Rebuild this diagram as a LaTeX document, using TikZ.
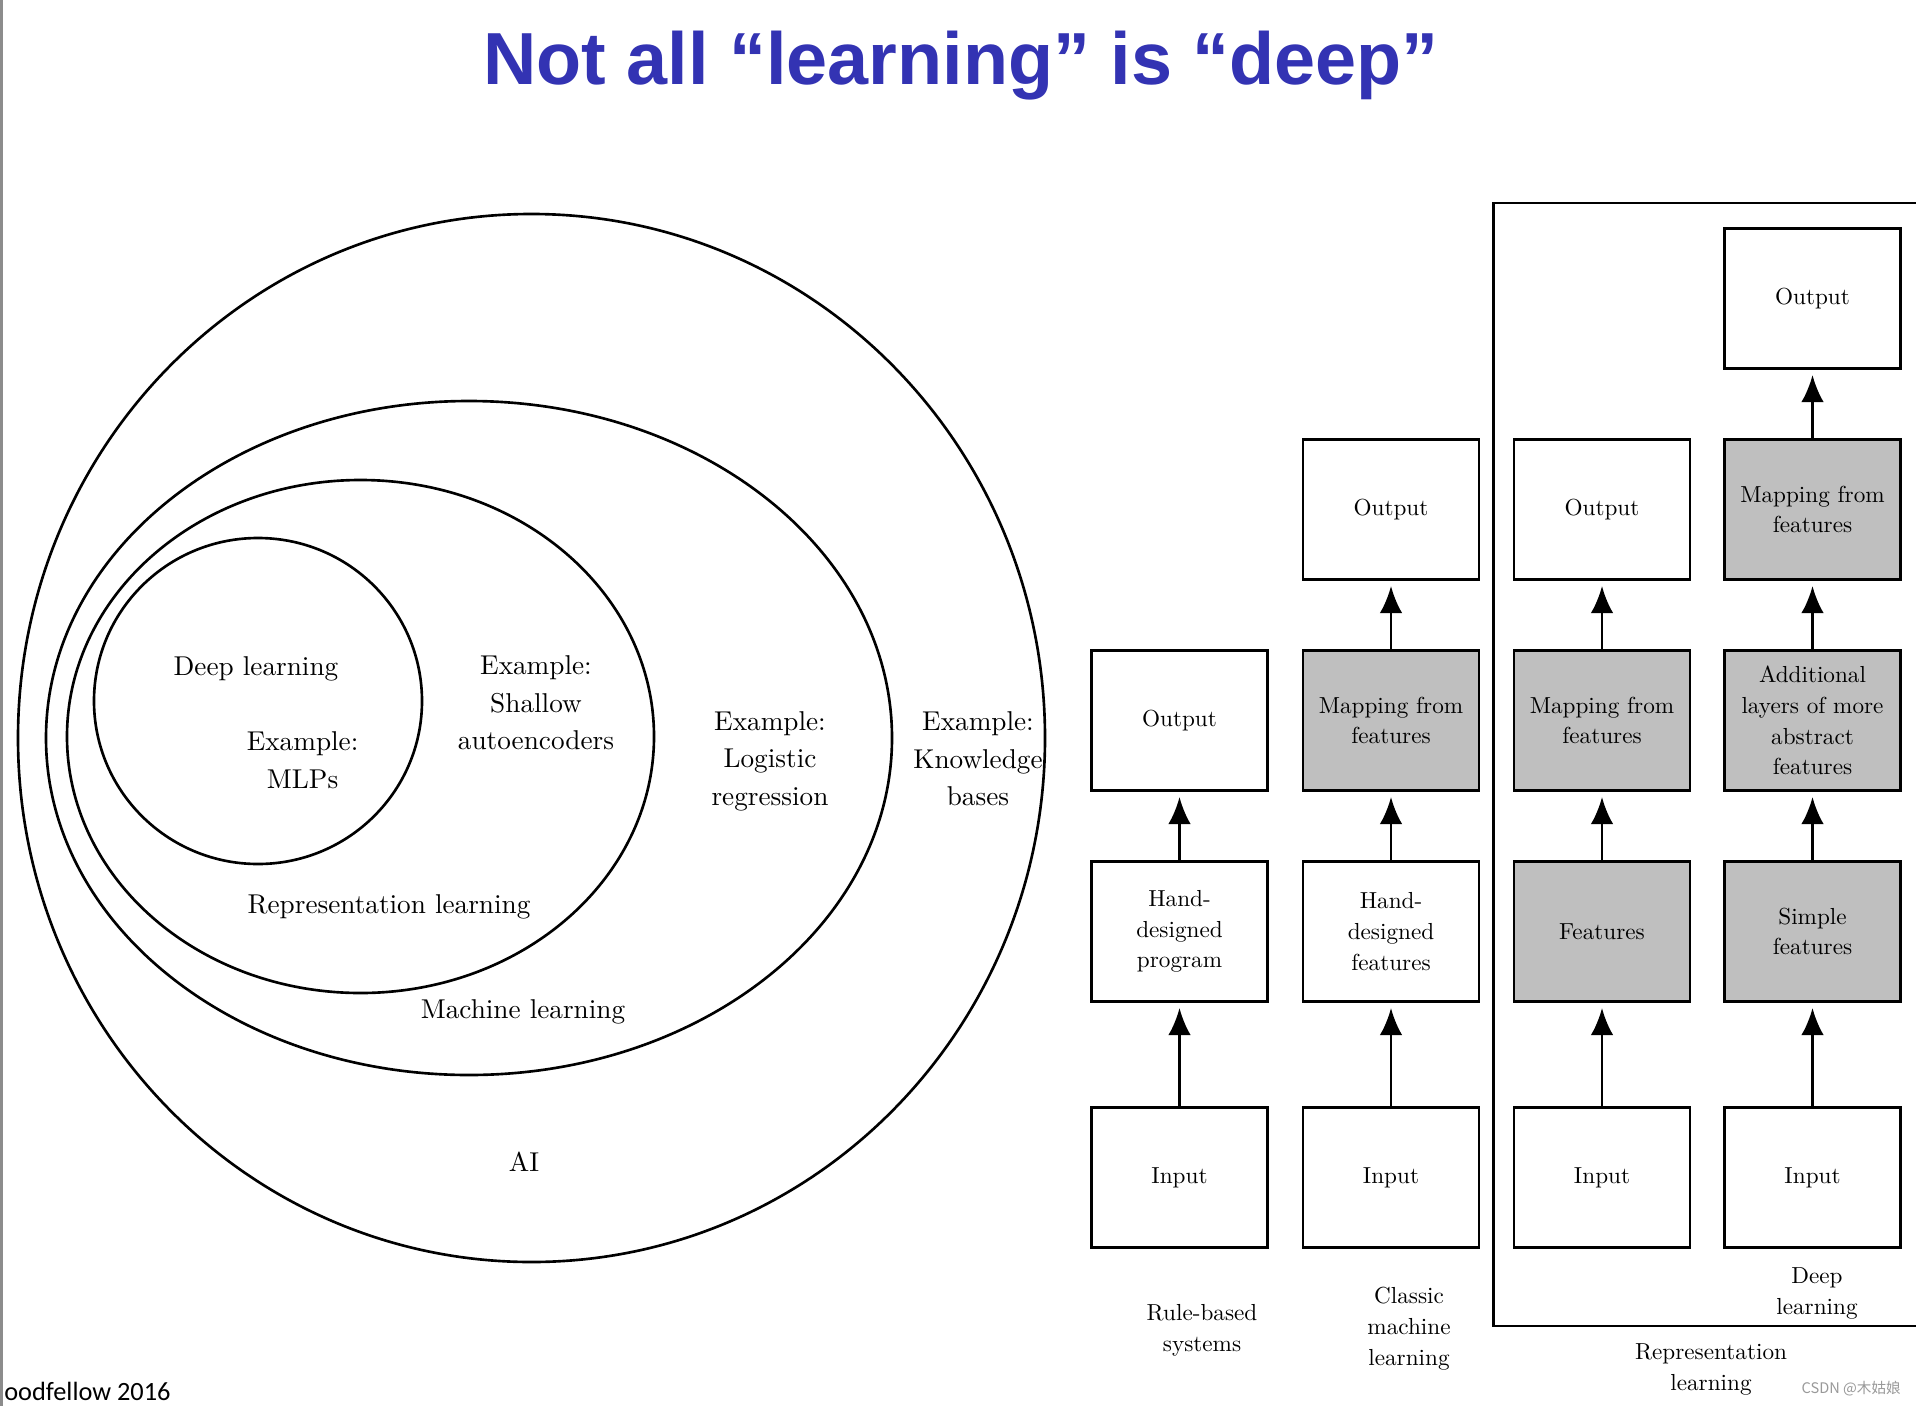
\documentclass[tikz,border=0pt]{standalone}
\usepackage{fontspec}
\setmainfont{lmroman10-regular.otf}
\newfontfamily\titlefont{Liberation Sans}
\newfontfamily\footfont{Carlito}
\newfontfamily\cjk{Noto Sans CJK SC}
\usetikzlibrary{arrows.meta}
\definecolor{titleblue}{RGB}{51,51,179}
\definecolor{layergray}{RGB}{191,191,191}

\begin{document}
\begin{tikzpicture}[x=0.02cm,y=-0.02cm,>={Latex[length=0.54cm,width=0.45cm]},
  venn/.style={line width=1.5pt},
  vtext/.style={align=center,font=\fontsize{15.5}{21.3}\selectfont},
  box/.style={draw,line width=1.5pt,minimum width=3.52cm,minimum height=2.81cm,
    align=center,inner sep=0pt,font=\fontsize{13.2}{17.5}\selectfont},
  learnt/.style={box,fill=layergray},
  flow/.style={->,line width=1.5pt,shorten >=0.1cm},
  caption/.style={align=center,font=\fontsize{13.2}{17.6}\selectfont}]
  \useasboundingbox (0,0) rectangle (1916,1406);
  \fill[white] (0,0) rectangle (1916,1406);
  \fill[black!45] (0,0) rectangle (3,1406);

  \node[text=titleblue,font=\titlefont\bfseries\fontsize{42}{50}\selectfont,anchor=base]
    (title) at (961,85) {Not all “learning” is “deep”};

  \begin{scope}
  \draw[venn] (531.5,738) ellipse [x radius=513.5,y radius=524];
  \draw[venn] (469,738) ellipse [x radius=423,y radius=337];
  \draw[venn] (360.5,736.5) ellipse [x radius=293.5,y radius=256.5];
  \draw[venn] (258,701) ellipse [x radius=164,y radius=163];
  \node[vtext] (dl) at (256,669) {Deep learning};
  \node[vtext] (mlp) at (302.6,760) {Example:\\MLPs};
  \node[vtext] (shallow) at (536,703) {Example:\\Shallow\\autoencoders};
  \node[vtext] (rl) at (389,907) {Representation learning};
  \node[vtext] (logreg) at (770,761) {Example:\\Logistic\\regression};
  \node[vtext] (kb) at (978,759) {Example:\\Knowledge\\bases};
  \node[vtext] (ml) at (523,1012) {Machine learning};
  \node[vtext] (ai) at (524,1162) {AI};
  \end{scope}

  \begin{scope}
  \node[box] (in1) at (1179.5,1177.5) {Input};
  \node[box] (prog1) at (1179.5,931.5) {Hand-\\designed\\program};
  \node[box] (out1) at (1179.5,720.5) {Output};

  \node[box] (in2) at (1391,1177.5) {Input};
  \node[box] (hand2) at (1391,931.5) {Hand-\\designed\\features};
  \node[learnt] (map2) at (1391,720.5) {Mapping from\\features};
  \node[box] (out2) at (1391,509.5) {Output};

  \node[box] (in3) at (1602,1177.5) {Input};
  \node[learnt] (feat3) at (1602,931.5) {Features};
  \node[learnt] (map3) at (1602,720.5) {Mapping from\\features};
  \node[box] (out3) at (1602,509.5) {Output};

  \node[box] (in4) at (1812.5,1177.5) {Input};
  \node[learnt] (simple4) at (1812.5,931.5) {Simple\\features};
  \node[learnt] (layers4) at (1812.5,720.5) {Additional\\layers of more\\abstract\\features};
  \node[learnt] (map4) at (1812.5,509.5) {Mapping from\\features};
  \node[box] (out4) at (1812.5,298.5) {Output};

  \foreach \a/\b in {in1/prog1,prog1/out1,in2/hand2,hand2/map2,map2/out2,
                     in3/feat3,feat3/map3,map3/out3,in4/simple4,simple4/layers4,
                     layers4/map4,map4/out4}
    \draw[flow] (\a) -- (\b);

  \draw[line width=1.5pt] (1916,203) -- (1493.5,203) -- (1493.5,1326) -- (1916,1326);

  \node[caption] (rule) at (1202,1330) {Rule-based\\systems};
  \node[caption] (classic) at (1409,1329) {Classic\\machine\\learning};
  \node[caption] (deep) at (1817,1293) {Deep\\learning};
  \node[caption] (replearn) at (1711,1369) {Representation\\learning};
  \end{scope}

  \node[anchor=base west,inner sep=0pt,font=\footfont\fontsize{15}{18}\selectfont]
    (credit) at (4,1400) {oodfellow 2016};
  \node[anchor=east,inner sep=0pt,text=black!40,font=\cjk\fontsize{8.3}{10}\selectfont]
    (mark) at (1901,1389) {CSDN @木姑娘};
\end{tikzpicture}
\end{document}
